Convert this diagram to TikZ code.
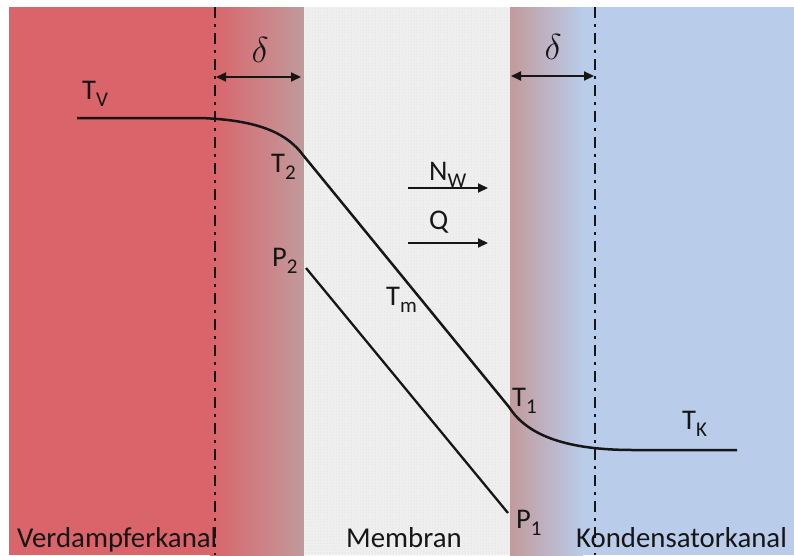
\documentclass[tikz,border=0pt]{standalone}
\usepackage{fontspec}
\setmainfont{Carlito}
\usetikzlibrary{arrows.meta,positioning,patterns}
\definecolor{hotred}{HTML}{D9646A}
\definecolor{hotgray}{HTML}{C29A9C}
\definecolor{coldblue}{HTML}{B9CCEA}
\definecolor{membgray}{HTML}{EFEFEF}
\definecolor{membdot}{HTML}{D8D8D8}
\definecolor{ink}{HTML}{161616}
\newcommand{\sublbl}[2]{#1\raisebox{-7pt}{\fontsize{21}{21}\selectfont #2}}

\begin{document}
\begin{tikzpicture}[x=1pt,y=-1pt,>={Triangle[length=10pt,width=9pt]},
  lbl/.style={font=\fontsize{28.5}{28.5}\selectfont,text=ink,anchor=base west,inner sep=0pt},
  chan/.style={font=\fontsize{28.8}{30}\selectfont,text=ink,anchor=base west,inner sep=0pt},
  bound/.style={ink,line width=2.2pt,dash pattern=on 11pt off 6pt on 3pt off 6pt},
  curve/.style={ink,line width=2.5pt,line join=round}]
  % canvas and channel fills
  \fill[white] (0,0) rectangle (794,555);
  \useasboundingbox (0,0) rectangle (794,555);
  \fill[hotred] (9,7) rectangle (211,555);
  \shade[left color=hotred,right color=hotgray] (210,7) rectangle (304,555);
  \fill[membgray] (304,7) rectangle (510,555);
  \fill[pattern=dots,pattern color=membdot] (304,7) rectangle (510,555);
  \shade[left color=hotgray,right color=coldblue] (510,7) rectangle (583,555);
  \fill[coldblue] (582,7) rectangle (794,555);
  % channel names
  \node[chan] (verd) at (17,547) {Verdampferkanal};
  \node[chan] (memb) at (346,547) {Membran};
  \node[chan] (kond) at (576,547) {Kondensatorkanal};
  % boundary layer edges
  \coordinate (leftTop) at (215,7);
  \coordinate (leftBot) at (215,555);
  \coordinate (rightTop) at (595,7);
  \coordinate (rightBot) at (595,555);
  \draw[bound] (leftTop) -- (leftBot);
  \draw[bound] (rightTop) -- (rightBot);
  % boundary layer thickness
  \coordinate (dlA) at (216,77);
  \coordinate (dlB) at (301,77);
  \coordinate (drA) at (511,76);
  \coordinate (drB) at (594,76);
  \draw[ink,line width=2pt,<->] (dlA) -- (dlB);
  \draw[ink,line width=2pt,<->] (drA) -- (drB);
  \node[text=ink,inner sep=0pt] (deltaL) at (260,50) {\scalebox{1.45}{\fontsize{24}{24}\selectfont$\delta$}};
  \node[text=ink,inner sep=0pt] (deltaR) at (553,47) {\scalebox{1.45}{\fontsize{24}{24}\selectfont$\delta$}};
  % temperature profile
  \coordinate (tvStart) at (77,118);
  \coordinate (t2pt) at (303,155);
  \coordinate (t1pt) at (509,407);
  \coordinate (tkEnd) at (737,450);
  \draw[curve] (tvStart) -- (200,118) .. controls (262,120) and (288,135) .. (t2pt)
    -- (t1pt) .. controls (528,437) and (570,450) .. (633,450) -- (tkEnd);
  % pressure profile
  \coordinate (p2pt) at (306,268);
  \coordinate (p1pt) at (508,513);
  \draw[ink,line width=2.3pt] (p2pt) -- (p1pt);
  % fluxes through the membrane
  \coordinate (nwA) at (408,188);
  \coordinate (nwB) at (488,188);
  \coordinate (qA) at (408,243);
  \coordinate (qB) at (488,243);
  \draw[ink,line width=2pt,->] (nwA) -- (nwB);
  \draw[ink,line width=2pt,->] (qA) -- (qB);
  \node[lbl] (nw) at (429,180) {\sublbl{N}{W}};
  \node[lbl] (q) at (429,229) {Q};
  % point labels
  \node[lbl] (tv) at (82,99) {\sublbl{T}{V}};
  \node[lbl] (t2) at (271,172) {\sublbl{T}{2}};
  \node[lbl] (p2) at (272,266) {\sublbl{P}{2}};
  \node[lbl] (tm) at (386,305) {\sublbl{T}{m}};
  \node[lbl] (t1) at (512,406) {\sublbl{T}{1}};
  \node[lbl] (p1) at (516,528) {\sublbl{P}{1}};
  \node[lbl] (tk) at (682,429) {\sublbl{T}{K}};
\end{tikzpicture}
\end{document}
